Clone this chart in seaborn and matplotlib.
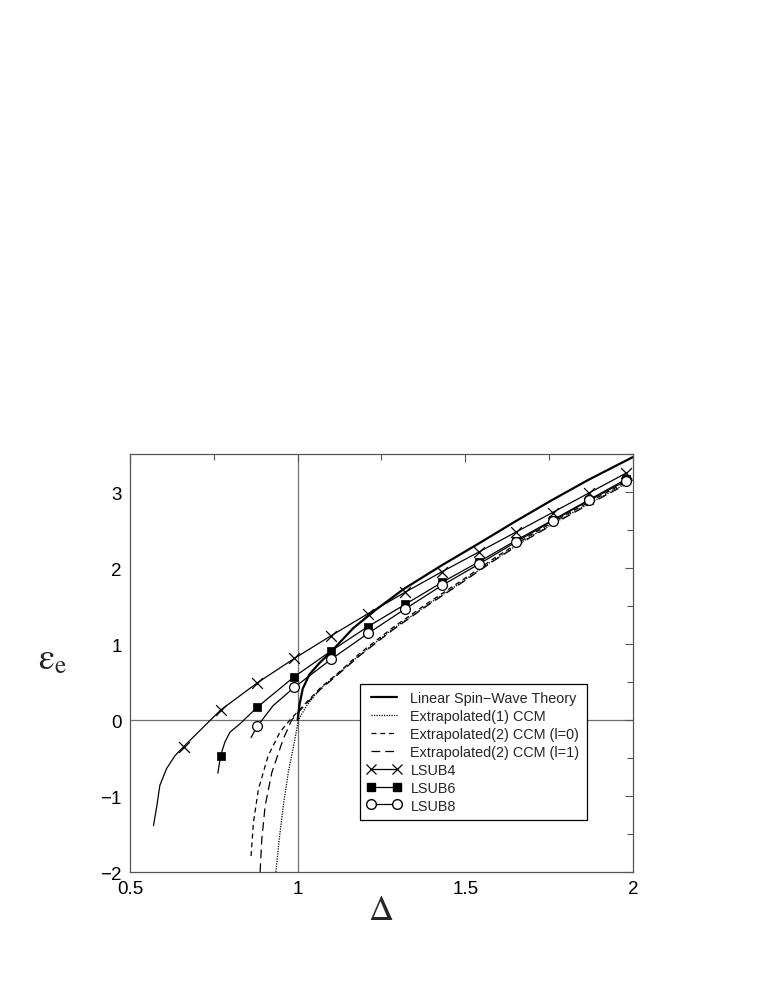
import matplotlib
matplotlib.use("Agg")
import matplotlib.pyplot as plt
from matplotlib.lines import Line2D
from matplotlib.ticker import MultipleLocator
import seaborn as sns

sns.set_theme(style="white")
plt.rcParams["font.family"] = ["Liberation Sans", "DejaVu Sans"]
plt.rcParams["mathtext.fontset"] = "stix"

# LSUBn marker positions
lsub4_x = [0.66, 0.77, 0.88, 0.99, 1.10, 1.21, 1.32, 1.43, 1.54, 1.65, 1.76, 1.87, 1.98]
lsub4_y = [-0.35, 0.13, 0.49, 0.81, 1.11, 1.40, 1.68, 1.95, 2.21, 2.47, 2.73, 2.99, 3.25]
lsub6_x = [0.77, 0.88, 0.99, 1.10, 1.21, 1.32, 1.43, 1.54, 1.65, 1.76, 1.87, 1.98]
lsub6_y = [-0.47, 0.17, 0.57, 0.91, 1.23, 1.52, 1.81, 2.08, 2.36, 2.63, 2.90, 3.17]
lsub8_x = [0.88, 0.99, 1.10, 1.21, 1.32, 1.43, 1.54, 1.65, 1.76, 1.87, 1.98]
lsub8_y = [-0.08, 0.43, 0.80, 1.14, 1.46, 1.77, 2.05, 2.34, 2.62, 2.89, 3.15]

# extra points of the curves below the first marker
lsub4_tail_x = [0.570, 0.580, 0.589, 0.609, 0.634]
lsub4_tail_y = [-1.39, -1.13, -0.86, -0.64, -0.47]
lsub6_tail_x = [0.762]
lsub6_tail_y = [-0.70]
lsub6_mid_x = [0.783, 0.798, 0.828]
lsub6_mid_y = [-0.29, -0.16, -0.05]
lsub8_tail_x = [0.861]
lsub8_tail_y = [-0.23]
lsub8_mid_x = [0.927]
lsub8_mid_y = [0.19]

# linear spin-wave theory
lswt_x = [1.0, 1.005, 1.015, 1.035, 1.065, 1.10, 1.166, 1.236, 1.315, 1.424, 1.539, 1.648, 1.757, 1.867, 2.0]
lswt_y = [0.0, 0.19, 0.41, 0.60, 0.75, 0.90, 1.21, 1.46, 1.72, 2.02, 2.32, 2.61, 2.89, 3.16, 3.46]

# extrapolated CCM curves
ccm1_x = [0.935, 0.945, 0.957, 0.972, 0.992, 1.002, 1.027, 1.067, 1.126, 1.186, 1.285, 1.385, 1.484, 1.583, 1.693, 1.812, 1.92, 2.0]
ccm1_y = [-2.0, -1.57, -1.13, -0.69, -0.25, 0.0, 0.19, 0.41, 0.63, 0.86, 1.20, 1.51, 1.80, 2.10, 2.41, 2.71, 2.97, 3.16]
ccm2a_x = [0.861, 0.868, 0.883, 0.912, 0.947, 0.977, 1.017, 1.067, 1.126, 1.186, 1.285, 1.385, 1.484, 1.583, 1.693, 1.812, 1.92, 2.0]
ccm2a_y = [-1.79, -1.35, -0.91, -0.47, -0.16, 0.0, 0.19, 0.42, 0.64, 0.88, 1.22, 1.53, 1.82, 2.12, 2.43, 2.73, 2.99, 3.18]
ccm2b_x = [0.888, 0.893, 0.903, 0.923, 0.957, 0.982, 1.02, 1.067, 1.126, 1.186, 1.285, 1.385, 1.484, 1.583, 1.693, 1.812, 1.92, 2.0]
ccm2b_y = [-2.0, -1.57, -1.13, -0.69, -0.25, 0.0, 0.19, 0.40, 0.62, 0.85, 1.19, 1.50, 1.79, 2.09, 2.40, 2.70, 2.96, 3.15]

legend_labels = ["Linear Spin\u2212Wave Theory", "Extrapolated(1) CCM",
                 "Extrapolated(2) CCM (l=0)", "Extrapolated(2) CCM (l=1)",
                 "LSUB4", "LSUB6", "LSUB8"]


def curve(xs, ys):
    pts = sorted(zip(xs, ys))
    return [p[0] for p in pts], [p[1] for p in pts]


fig = plt.figure(figsize=(7.63, 9.87), dpi=100)
ax = fig.add_axes([0.1704, 0.1155, 0.6592, 0.4235])

ax.axhline(0, color="#707070", lw=0.9, zorder=0)
ax.axvline(1, color="#707070", lw=0.9, zorder=0)

k = dict(color="black", sort=False, estimator=None, ax=ax)
sns.lineplot(x=ccm1_x, y=ccm1_y, lw=0.9, linestyle=(0, (1, 1)), **k)
sns.lineplot(x=ccm2a_x, y=ccm2a_y, lw=0.9, linestyle=(0, (4, 3)), **k)
sns.lineplot(x=ccm2b_x, y=ccm2b_y, lw=0.9, linestyle=(0, (7, 4)), **k)
sns.lineplot(x=lswt_x, y=lswt_y, lw=1.6, **k)

cx, cy = curve(lsub4_tail_x + lsub4_x, lsub4_tail_y + lsub4_y)
sns.lineplot(x=cx, y=cy, lw=0.9, **k)
cx, cy = curve(lsub6_tail_x + lsub6_mid_x + lsub6_x, lsub6_tail_y + lsub6_mid_y + lsub6_y)
sns.lineplot(x=cx, y=cy, lw=0.9, **k)
cx, cy = curve(lsub8_tail_x + lsub8_mid_x + lsub8_x, lsub8_tail_y + lsub8_mid_y + lsub8_y)
sns.lineplot(x=cx, y=cy, lw=0.9, **k)

sns.scatterplot(x=lsub4_x, y=lsub4_y, marker="x", color="black", s=60, linewidth=0.9, ax=ax, zorder=4)
sns.scatterplot(x=lsub6_x, y=lsub6_y, marker="s", color="black", edgecolor="black", s=40, ax=ax, zorder=4)
sns.scatterplot(x=lsub8_x, y=lsub8_y, marker="o", facecolor="white", edgecolor="black", s=50, linewidth=0.9, ax=ax, zorder=5)

ax.set_xlim(0.5, 2.0)
ax.set_ylim(-2.0, 3.5)
ax.set_xticks([0.5, 1.0, 1.5, 2.0])
ax.set_xticklabels(["0.5", "1", "1.5", "2"])
ax.set_yticks([-2, -1, 0, 1, 2, 3])
ax.xaxis.set_minor_locator(MultipleLocator(0.25))
ax.yaxis.set_minor_locator(MultipleLocator(0.5))
ax.tick_params(which="both", direction="in", top=True, right=True, colors="#555555",
               labelcolor="black", labelsize=13.5)
ax.tick_params(which="major", length=6, width=0.8, pad=6)
ax.tick_params(which="minor", length=4, width=0.8)
for s in ax.spines.values():
    s.set_color("#555555")
    s.set_linewidth(0.9)

ax.set_xlabel(r"$\Delta$", fontsize=25)
ax.xaxis.set_label_coords(0.499, -0.05)
ax.set_ylabel(r"$\mathrm{\varepsilon}_{\mathrm{e}}$", fontsize=26, rotation=0, ha="center", va="center")
ax.yaxis.set_label_coords(-0.155, 0.51)

handles = [
    Line2D([], [], color="black", lw=1.6),
    Line2D([], [], color="black", lw=0.9, linestyle=(0, (1, 1))),
    Line2D([], [], color="black", lw=0.9, linestyle=(0, (4, 3))),
    Line2D([], [], color="black", lw=0.9, linestyle=(0, (7, 4))),
    Line2D([], [], color="black", lw=0.9, marker="x", markersize=7, markeredgewidth=0.9),
    Line2D([], [], color="black", lw=0.9, marker="s", markersize=6),
    Line2D([], [], color="black", lw=0.9, marker="o", markersize=7, markerfacecolor="white"),
]
leg = ax.legend(handles, legend_labels, loc="upper left", bbox_to_anchor=(0.457, 0.450),
                borderaxespad=0, fontsize=10.4, numpoints=2, handlelength=2.4,
                handletextpad=0.6, labelspacing=0.27, borderpad=0.5,
                fancybox=False, framealpha=1, edgecolor="black")
leg.get_frame().set_linewidth(0.9)

fig.savefig("out.png", dpi=100)
